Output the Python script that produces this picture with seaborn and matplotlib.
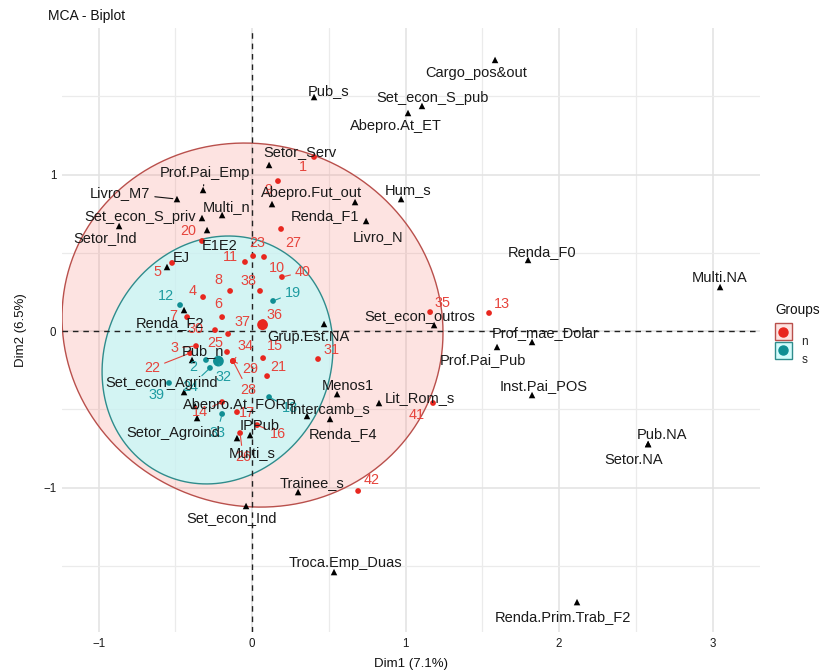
import numpy as np
import pandas as pd
import matplotlib
matplotlib.use("Agg")
import matplotlib.pyplot as plt
import seaborn as sns
from matplotlib.patches import Polygon, Rectangle
from matplotlib.lines import Line2D

# ---- individuals (row coordinates) ----
ind_ids = ["1", "3", "4", "5", "6", "7", "8", "9", "10", "11", "13", "14", "15", "16",
           "17", "20", "21", "22", "23", "25", "26", "27", "28", "29", "30", "31", "34",
           "35", "36", "37", "38", "40", "41", "42",
           "2", "12", "18", "19", "24", "32", "33", "39"]
ind_group = ["n"] * 34 + ["s"] * 8
ind_dim1 = [0.404, -0.365, -0.319, -0.521, -0.195, -0.423, -0.143, 0.169, 0.078, -0.046,
            1.544, -0.195, 0.072, 0.033, -0.098, -0.326, 0.098, -0.404, 0.007, -0.163,
            -0.078, 0.189, -0.124, -0.124, -0.241, 0.430, -0.124, 1.160, 0.072, -0.156,
            0.052, 0.195, 1.179, 0.691,
            -0.300, -0.469, 0.111, 0.137, -0.274, -0.222, -0.195, -0.541]
ind_dim2 = [1.112, -0.096, 0.217, 0.435, 0.089, 0.089, 0.256, 0.958, 0.473, 0.441,
            0.115, -0.454, -0.173, -0.601, -0.518, 0.575, -0.288, -0.141, 0.479, -0.134,
            -0.652, 0.652, -0.192, -0.192, 0.006, -0.179, -0.192, 0.121, 0.057, -0.019,
            0.256, 0.345, -0.460, -1.022,
            -0.185, 0.166, -0.422, 0.192, -0.236, -0.192, -0.530, -0.332]

# ---- variable categories (column coordinates) ----
var_names = ["Cargo_pos&out", "Pub_s", "Set_econ_S_pub", "Abepro.At_ET", "Setor_Serv",
             "Prof.Pai_Emp", "Livro_M7", "Multi_n", "Set_econ_S_priv", "Setor_Ind",
             "E1E2", "EJ", "Abepro.Fut_out", "Renda_F1", "Livro_N", "Hum_s", "Renda_F0",
             "Multi.NA", "Set_econ_outros", "Prof_mae_Dolar", "Prof.Pai_Pub",
             "Inst.Pai_POS", "Pub.NA", "Setor.NA", "Renda.Prim.Trab_F2", "Grup.Est.NA",
             "Menos1", "Lit_Rom_s", "Intercamb_s", "Renda_F4", "Abepro.At_FORP",
             "Setor_Agroind", "IPPub", "Multi_s", "Trainee_s", "Set_econ_Ind",
             "Troca.Emp_Duas", "Renda_F2", "Pub_n", "Set_econ_Agrind"]
var_dim1 = [1.583, 0.404, 1.107, 1.016, 0.111, -0.319, -0.489, -0.195, -0.326, -0.866,
            -0.293, -0.554, 0.130, 0.671, 0.743, 0.971, 1.798, 3.049, 1.186, 1.824,
            1.596, 1.824, 2.580, 2.580, 2.117, 0.469, 0.554, 0.827, 0.358, 0.508,
            -0.371, -0.358, -0.013, -0.098, 0.300, -0.039, 0.534, -0.443, -0.391, -0.443]
var_dim2 = [1.732, 1.495, 1.438, 1.393, 1.061, 0.901, 0.843, 0.741, 0.722, 0.671,
            0.645, 0.409, 0.811, 0.824, 0.703, 0.843, 0.454, 0.281, 0.038, -0.070,
            -0.102, -0.409, -0.722, -0.722, -1.732, 0.045, -0.403, -0.460, -0.543, -0.562,
            -0.479, -0.556, -0.665, -0.684, -1.029, -1.118, -1.540, 0.134, -0.185, -0.390]

# ---- 95% concentration ellipses of the two groups ----
ell_groups = ["n", "s"]
ell_center_d1 = [0.003, -0.225]
ell_center_d2 = [0.038, -0.185]
ell_half_d1 = [1.241, 0.752]    # half-width along Dim1
ell_half_d2 = [1.163, 0.792]    # half-height along Dim2
ell_cross = [-0.060, 0.057]     # off-diagonal term of the ellipse shape matrix

dim1_label = "Dim1 (7.1%)"
dim2_label = "Dim2 (6.5%)"
title = "MCA - Biplot"
legend_title = "Groups"
group_levels = ["n", "s"]

# label placement (pixels: right, down) and which labels get a leader line
ind_offsets = {
    "1": (-11, 10), "3": (-22, 2), "4": (-10, -6), "5": (-15, 9), "6": (-4, -13),
    "7": (-14, -1), "8": (-12, -11), "9": (-10, 9), "10": (13, 11), "11": (-15, -5),
    "13": (13, -9), "14": (-22, 10), "15": (12, -12), "16": (21, 9), "17": (10, 1),
    "20": (-14, -10), "21": (11, -9), "22": (-38, 15), "23": (4, -13), "25": (-12, -9),
    "26": (3, 24), "27": (12, 14), "28": (15, 29), "29": (17, 8), "30": (-20, -1),
    "31": (14, -9), "34": (12, -15), "35": (12, -9), "36": (11, -7), "37": (14, -12),
    "38": (-12, -10), "40": (21, -5), "41": (-16, 12), "42": (14, -11),
    "2": (-13, 7), "12": (-14, -9), "18": (21, 11), "19": (20, -8), "24": (-20, 19),
    "32": (6, 16), "33": (-5, 19), "39": (-12, 12),
}
ind_leaders = {"3", "14", "16", "22", "26", "28", "29", "34", "40", "18", "19", "24", "32", "33"}

var_offsets = {
    "Cargo_pos&out": (-19, 13), "Pub_s": (15, -6), "Set_econ_S_pub": (11, -8),
    "Abepro.At_ET": (-12, 13), "Setor_Serv": (31, -13), "Prof.Pai_Emp": (2, -17),
    "Livro_M7": (-57, -6), "Multi_n": (4, -8), "Set_econ_S_priv": (-62, -1),
    "Setor_Ind": (-14, 12), "E1E2": (13, 16), "EJ": (14, -9), "Abepro.Fut_out": (40, -11),
    "Renda_F1": (-30, 14), "Livro_N": (12, 16), "Hum_s": (7, -9), "Renda_F0": (14, -8),
    "Multi.NA": (0, -9), "Set_econ_outros": (-14, -9), "Prof_mae_Dolar": (13, -9),
    "Prof.Pai_Pub": (-14, 13), "Inst.Pai_POS": (12, -9), "Pub.NA": (14, -9),
    "Setor.NA": (-14, 16), "Renda.Prim.Trab_F2": (-14, 15), "Grup.Est.NA": (-16, 13),
    "Menos1": (11, -8), "Lit_Rom_s": (41, -5), "Intercamb_s": (23, -7),
    "Renda_F4": (13, 15), "Abepro.At_FORP": (45, -1), "Setor_Agroind": (-24, 15),
    "IPPub": (10, -9), "Multi_s": (15, 15), "Trainee_s": (14, -9),
    "Set_econ_Ind": (-14, 12), "Troca.Emp_Duas": (11, -9), "Renda_F2": (-14, 13),
    "Pub_n": (11, -9), "Set_econ_Agrind": (-22, -9),
}
var_leaders = {"Livro_M7", "Prof.Pai_Emp"}

point_colors = {"n": "#E8271F", "s": "#0F8E93"}
text_colors = {"n": "#E6443C", "s": "#1E9CA1"}
fill_colors = {"n": ("#F8766D", 0.20), "s": ("#C4FBFB", 0.72)}
edge_colors = {"n": "#B9504C", "s": "#2F8C8C"}

ind_df = pd.DataFrame({"id": ind_ids, "group": ind_group, "Dim1": ind_dim1, "Dim2": ind_dim2})
var_df = pd.DataFrame({"name": var_names, "Dim1": var_dim1, "Dim2": var_dim2})
ell_df = pd.DataFrame({"group": ell_groups, "c1": ell_center_d1, "c2": ell_center_d2,
                       "h1": ell_half_d1, "h2": ell_half_d2, "cross": ell_cross})


def ellipse_outline(c1, c2, h1, h2, cross, segments=160):
    shape = np.array([[h1 ** 2, cross], [cross, h2 ** 2]])
    upper = np.linalg.cholesky(shape).T
    t = np.linspace(0, 2 * np.pi, segments)
    circle = np.column_stack([np.cos(t), np.sin(t)])
    return np.array([c1, c2]) + circle @ upper


sns.set_style("white")
plt.rcParams["font.family"] = ["Liberation Sans", "DejaVu Sans"]

fig = plt.figure(figsize=(8.25, 6.70), dpi=100)
W, H = 825, 670
ax = fig.add_axes([62 / W, 1 - 632 / H, (760 - 62) / W, (632 - 28) / H])
ax.set_xlim(-1.238, 3.309)
ax.set_ylim(-1.923, 1.936)

# grid
ax.set_xticks([-1, 0, 1, 2, 3])
ax.set_yticks([-1, 0, 1])
ax.set_xticks([-0.5, 0.5, 1.5, 2.5], minor=True)
ax.set_yticks([-1.5, -0.5, 0.5, 1.5], minor=True)
ax.grid(True, which="major", color="#E2E2E2", lw=1.1)
ax.grid(True, which="minor", color="#EBEBEB", lw=0.9)
ax.set_axisbelow(True)
for sp in ax.spines.values():
    sp.set_visible(False)
ax.tick_params(which="both", length=0, labelsize=8.3, colors="#1A1A1A", pad=4)

# concentration ellipses per group
for _, e in ell_df.iterrows():
    pts = ellipse_outline(e["c1"], e["c2"], e["h1"], e["h2"], e["cross"])
    col, a = fill_colors[e["group"]]
    ax.add_patch(Polygon(pts, closed=True, facecolor=col, alpha=a, edgecolor="none", zorder=1))
    ax.add_patch(Polygon(pts, closed=True, facecolor="none", edgecolor=edge_colors[e["group"]],
                         lw=1.0, zorder=1.2))

# reference lines
ax.axhline(0, color="#222222", lw=1.0, ls=(0, (4, 3.5)), zorder=1.5)
ax.axvline(0, color="#222222", lw=1.0, ls=(0, (4, 3.5)), zorder=1.5)

# individuals
sns.scatterplot(data=ind_df, x="Dim1", y="Dim2", hue="group", palette=point_colors,
                hue_order=group_levels, s=17, edgecolor="none", legend=False, ax=ax, zorder=3)
# group barycentres
means = ind_df.groupby("group")[["Dim1", "Dim2"]].mean().reset_index()
sns.scatterplot(data=means, x="Dim1", y="Dim2", hue="group", palette=point_colors,
                hue_order=group_levels, s=60, edgecolor="none", legend=False, ax=ax, zorder=3)
# variable categories
sns.scatterplot(data=var_df, x="Dim1", y="Dim2", marker="^", color="black", s=22,
                edgecolor="none", legend=False, ax=ax, zorder=3)

for _, r in ind_df.iterrows():
    dx, dy = ind_offsets[r["id"]]
    kw = {}
    if r["id"] in ind_leaders:
        kw["arrowprops"] = dict(arrowstyle="-", color=text_colors[r["group"]], lw=0.8,
                                shrinkA=1, shrinkB=2)
    ax.annotate(r["id"], (r["Dim1"], r["Dim2"]), xytext=(dx, -dy), textcoords="offset pixels",
                ha="center", va="center", fontsize=10.4, color=text_colors[r["group"]],
                zorder=4, **kw)

for _, r in var_df.iterrows():
    dx, dy = var_offsets[r["name"]]
    kw = {}
    if r["name"] in var_leaders:
        kw["arrowprops"] = dict(arrowstyle="-", color="#111111", lw=0.8, shrinkA=1, shrinkB=3)
    ax.annotate(r["name"], (r["Dim1"], r["Dim2"]), xytext=(dx, -dy), textcoords="offset pixels",
                ha="center", va="center", fontsize=10.5, color="#1A1A1A", zorder=4, **kw)

ax.set_xlabel(dim1_label, fontsize=9.5, color="#111111", labelpad=6)
ax.set_ylabel(dim2_label, fontsize=9.5, color="#111111", labelpad=12)
fig.text(48 / W, 1 - 16 / H, title, fontsize=10, color="#111111", ha="left", va="center")


class BoxDotHandler:
    """Legend key: a filled square with the group's point in the middle."""

    def __init__(self, group):
        self.group = group

    def legend_artist(self, legend, orig_handle, fontsize, handlebox):
        x0, y0 = handlebox.xdescent, handlebox.ydescent
        w, h = handlebox.width, handlebox.height
        s = min(w, h)
        tr = handlebox.get_transform()
        col, a = fill_colors[self.group]
        face = Rectangle((x0 + (w - s) / 2, y0 + (h - s) / 2), s, s, facecolor=col, alpha=a,
                         edgecolor="none", transform=tr)
        edge = Rectangle((x0 + (w - s) / 2, y0 + (h - s) / 2), s, s, facecolor="none",
                         edgecolor=edge_colors[self.group], lw=1.0, transform=tr)
        dot = Line2D([x0 + w / 2], [y0 + h / 2], marker="o", ls="none", markersize=6.5,
                     color=point_colors[self.group], transform=tr)
        for art in (face, edge, dot):
            handlebox.add_artist(art)
        return edge


# legend: title text plus boxed keys
fig.text(775 / W, 1 - 310 / H, legend_title, fontsize=9.8, color="#111111",
         ha="left", va="center")
handles = [Line2D([], []) for _ in group_levels]
fig.legend(handles, group_levels, loc="upper left",
           bbox_to_anchor=(763 / W, 1 - 322 / H), frameon=False,
           handler_map={h: BoxDotHandler(g) for h, g in zip(handles, group_levels)},
           handlelength=1.65, handleheight=1.85, fontsize=8.5,
           labelspacing=0.12, handletextpad=0.7)

fig.savefig("out.png", dpi=100)
